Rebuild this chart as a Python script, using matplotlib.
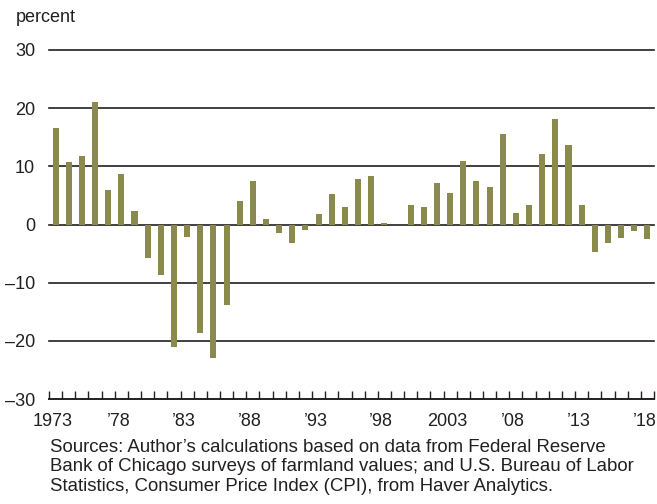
import numpy as np
import matplotlib
matplotlib.use("Agg")
import matplotlib.pyplot as plt
import matplotlib.transforms as mtransforms

plt.rcParams['font.family'] = ['Liberation Sans', 'DejaVu Sans']

# real farmland value change, percent, 1973-2018
years = list(range(1973, 2019))
values = [16.6, 10.7, 11.7, 21.0, 6.0, 8.6, 2.4, -5.8, -8.6, -21.0,
          -2.2, -18.7, -22.9, -13.8, 4.1, 7.5, 1.0, -1.4, -3.2, -1.0,
          1.8, 5.2, 3.0, 7.8, 8.3, 0.3, -0.1, 3.4, 3.0, 7.2,
          5.5, 11.0, 7.4, 6.5, 15.6, 2.0, 3.3, 12.1, 18.2, 13.6,
          3.4, -4.7, -3.2, -2.3, -1.2, -2.5]
tick_years = [1973, 1978, 1983, 1988, 1993, 1998, 2003, 2008, 2013, 2018]
tick_labels = ['1973', '\u201978', '\u201983', '\u201988', '\u201993', '\u201998',
               '2003', '\u201908', '\u201913', '\u201918']
y_ticks = [30, 20, 10, 0, -10, -20, -30]
y_labels = ['30', '20', '10', '0', '\u201310', '\u201320', '\u201330']

bar_color = '#8a8a4e'
ink = '#231f20'
fs = 13

fig = plt.figure(figsize=(6.57, 5.04), dpi=100)
ax = fig.add_axes([49/657, 1 - 399/504, 605/657, 349/504])

x = np.arange(len(years))
ax.bar(x, values, width=0.46, color=bar_color, zorder=3)

for v in y_ticks[:-1]:
    ax.axhline(v, color=ink, lw=1.2, zorder=2, clip_on=False)

ax.set_xlim(-0.5, len(years) - 0.5)
ax.set_ylim(-30, 30)

for s in ['top', 'right', 'left']:
    ax.spines[s].set_visible(False)
ax.spines['bottom'].set_color(ink)
ax.spines['bottom'].set_linewidth(1.4)

ax.set_yticks(y_ticks)
ax.set_yticklabels(y_labels)
ax.tick_params(axis='y', length=0, pad=10, labelsize=fs, labelcolor=ink)

ax.set_xticks([years.index(y) for y in tick_years])
ax.set_xticklabels(tick_labels)
ax.set_xticks(np.arange(-0.5, len(years)), minor=True)
ax.tick_params(axis='x', which='major', length=0, pad=10, labelsize=fs, labelcolor=ink)
ax.tick_params(axis='x', which='minor', direction='in', length=6, width=1.0, color=ink)

# nudge year labels a little left so '18 stays inside the figure
shift = mtransforms.ScaledTranslation(-3/100, 0, fig.dpi_scale_trans)
for lab in ax.get_xticklabels():
    lab.set_transform(lab.get_transform() + shift)

fig.text(16/657, 1 - 22/504, 'percent', fontsize=fs, color=ink, ha='left', va='baseline')
fig.text(50/657, 1 - 439/504,
         "Sources: Author\u2019s calculations based on data from Federal Reserve\n"
         "Bank of Chicago surveys of farmland values; and U.S. Bureau of Labor\n"
         "Statistics, Consumer Price Index (CPI), from Haver Analytics.",
         fontsize=13.4, color=ink, ha='left', va='top', linespacing=1.18)

fig.savefig('out.png', dpi=100, facecolor='white')
